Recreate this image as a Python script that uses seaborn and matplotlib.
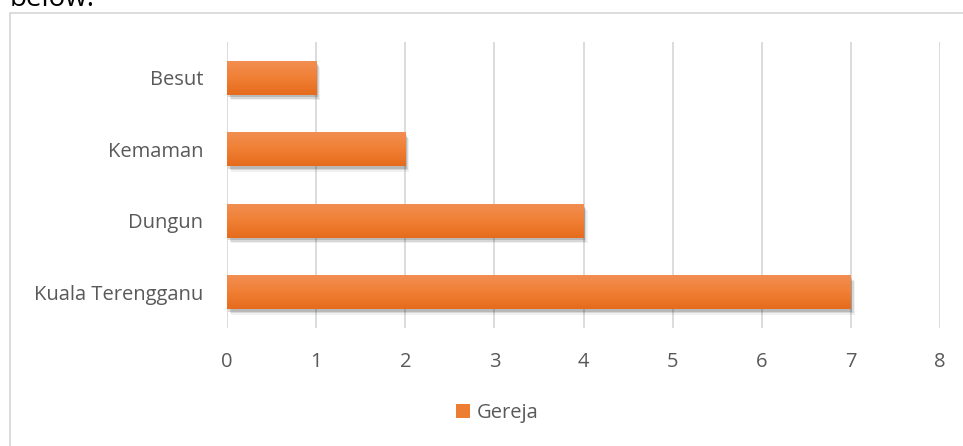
import matplotlib
matplotlib.use("Agg")
import matplotlib.pyplot as plt
import seaborn as sns
import pandas as pd
import numpy as np
from matplotlib.patches import Rectangle
from matplotlib.colors import LinearSegmentedColormap
import matplotlib.patheffects as pe

categories = ["Besut", "Kemaman", "Dungun", "Kuala Terengganu"]
values = [1, 2, 4, 7]
series_name = "Gereja"
xticks = [0, 1, 2, 3, 4, 5, 6, 7, 8]

sns.set_theme(style="white")
plt.rcParams['font.family'] = ['Open Sans', 'DejaVu Sans']

df = pd.DataFrame({"Area": categories, "Count": values})

fig = plt.figure(figsize=(9.63, 4.46), dpi=100)
ax = fig.add_axes([227/963, 1-328/446, (940-227)/963, (328-42)/446])

sns.barplot(data=df, y="Area", x="Count", color="#ED7D31", width=0.47, ax=ax,
            orient="h", saturation=1)

cmap = LinearSegmentedColormap.from_list("g", ["#F28E52", "#F07F34", "#E66B1C"])
for p in ax.patches:
    p.set_edgecolor("none")
    p.set_path_effects([
        pe.SimplePatchShadow(offset=(3, -4), shadow_rgbFace="#000000", alpha=0.06),
        pe.SimplePatchShadow(offset=(2, -3), shadow_rgbFace="#000000", alpha=0.10),
        pe.SimplePatchShadow(offset=(1, -2), shadow_rgbFace="#000000", alpha=0.14),
        pe.Normal()])
    x0, y0 = p.get_x(), p.get_y()
    w, h = p.get_width(), p.get_height()
    grad = np.linspace(0, 1, 64).reshape(-1, 1)
    im = ax.imshow(grad, extent=[x0, x0 + w, y0 + h, y0], aspect="auto", cmap=cmap,
                   origin="upper", zorder=p.get_zorder() + 0.1)
    im.set_clip_path(p)

ax.set_xlim(0, 8)
ax.set_ylim(3.5, -0.5)
ax.set_xticks(xticks)
ax.set_xticklabels([str(t) for t in xticks])
ax.xaxis.grid(True, color="#D9D9D9", linewidth=1.3)
ax.set_axisbelow(True)
for s in ax.spines.values():
    s.set_visible(False)
ax.set_xlabel("")
ax.set_ylabel("")
ax.tick_params(axis="x", colors="#595959", labelsize=14.5, length=0, pad=17)
ax.tick_params(axis="y", colors="#595959", labelsize=14.5, length=0, pad=17)

# legend
handle = Rectangle((0, 0), 1, 1, facecolor="#ED7D31", edgecolor="none")
fig.legend([handle], [series_name], loc="center", bbox_to_anchor=(497/963, 1-413/446),
           frameon=False, fontsize=14.5, labelcolor="#595959", handlelength=0.7,
           handleheight=0.7, handletextpad=0.35)

# chart border
border = Rectangle((10/963, -0.05), 1.0, 1 - 13/446 + 0.05, transform=fig.transFigure,
                   fill=False, edgecolor="#D9D9D9", linewidth=1.3)
fig.add_artist(border)

# clipped text from document above
fig.text(10/963, 1 - 6/446, "below.", fontsize=20, color="#000000", ha="left", va="baseline")

fig.savefig("out.png", dpi=100)
